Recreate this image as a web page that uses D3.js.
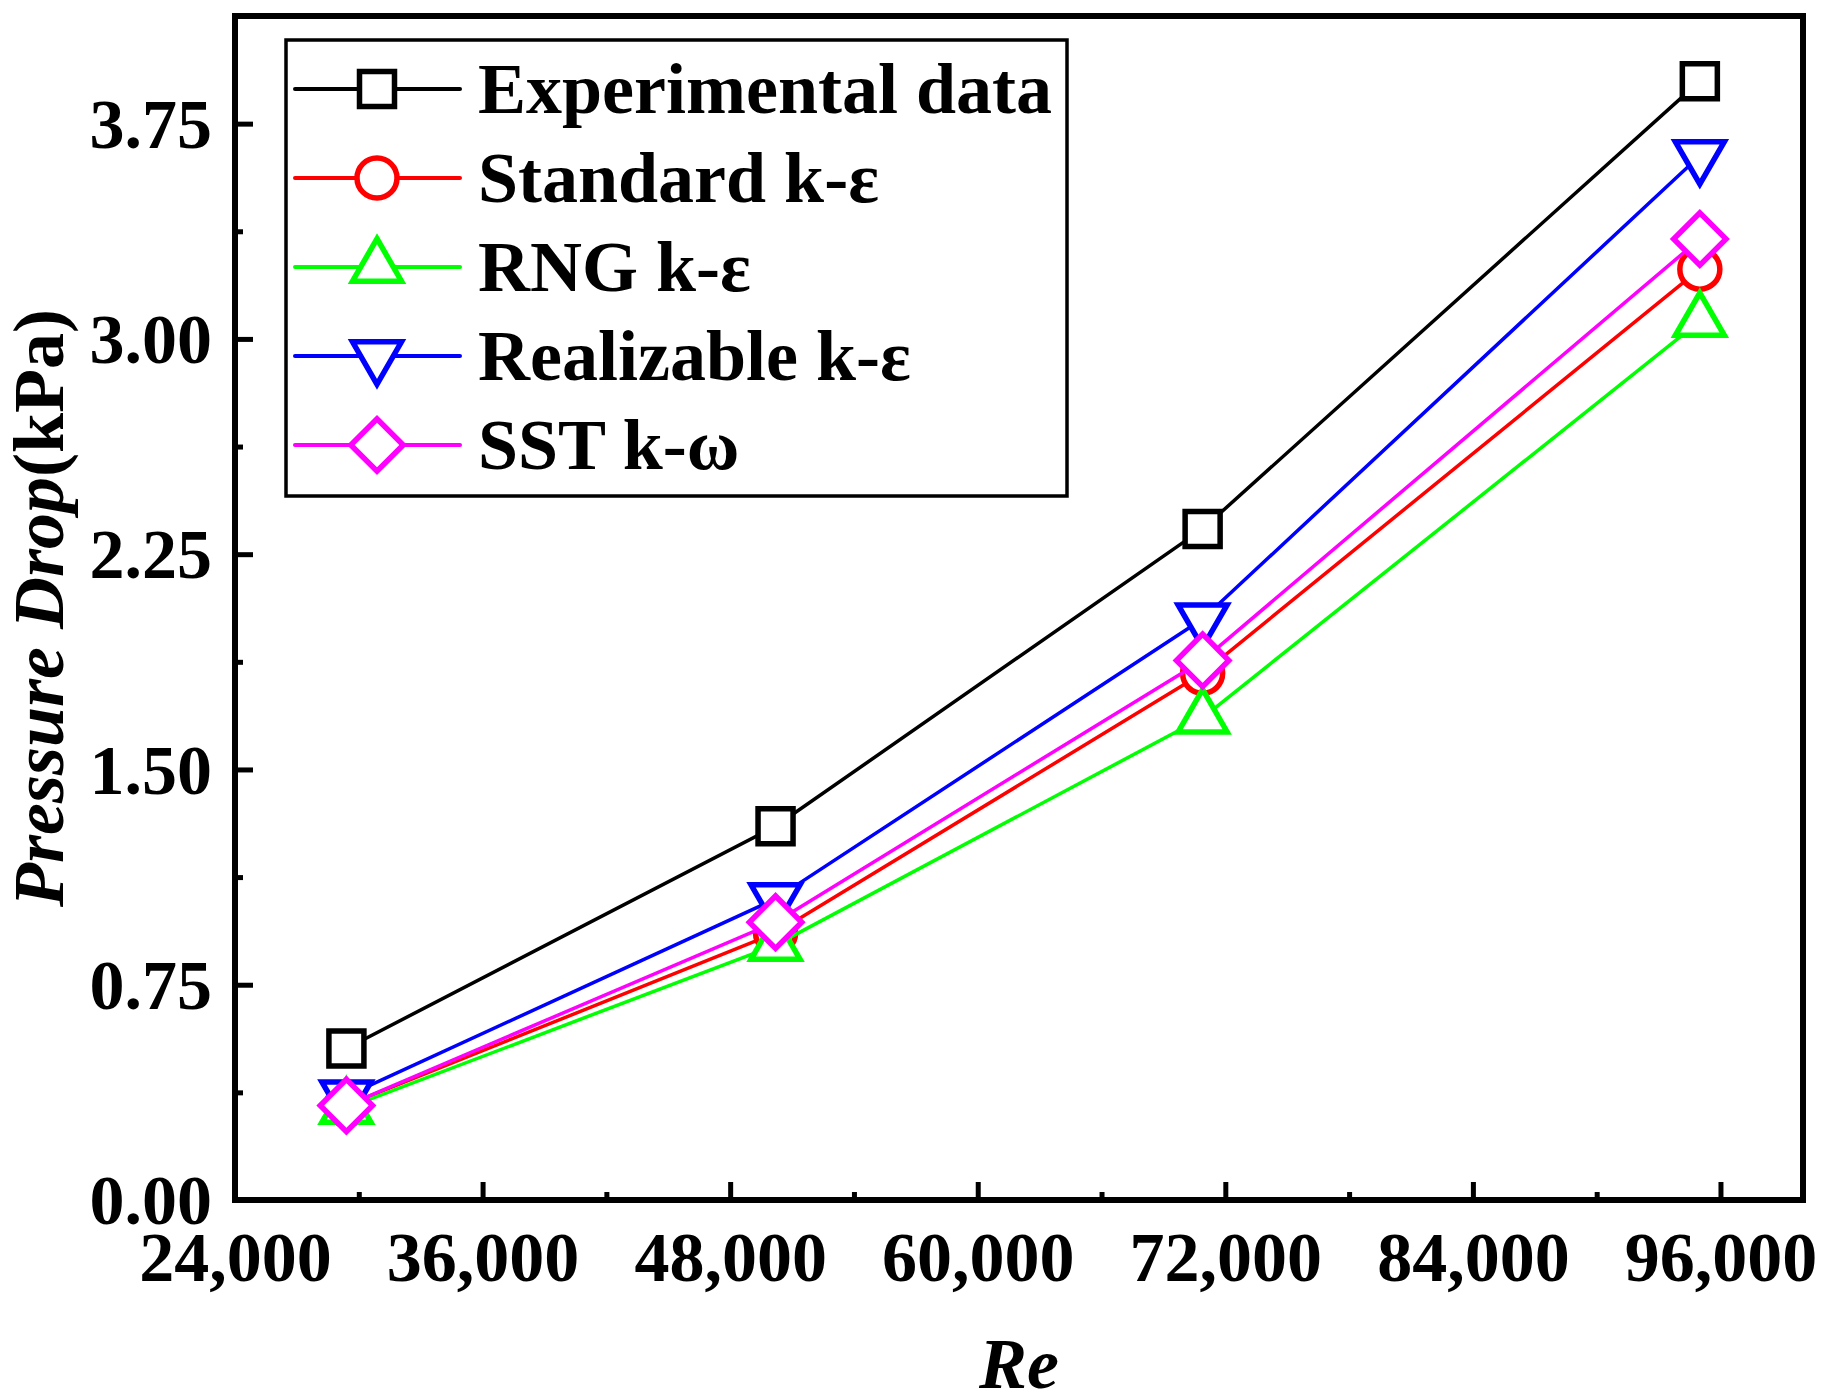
<!DOCTYPE html>
<html>
<head>
<meta charset="utf-8">
<script src="https://cdn.jsdelivr.net/npm/d3@7"></script>
<style>
  html, body { margin: 0; padding: 0; background: #fff; }
  text { font-family: "Liberation Serif", "Times New Roman", serif; font-weight: bold; }
</style>
</head>
<body>
<div class="line-chart"></div>
<script>
//======================DATA===================================================================

const reynolds = [29400, 50200, 70900, 95000];

const experimental = [0.528, 1.302, 2.338, 3.898];
const standardKE   = [0.330, 0.930, 1.835, 3.243];
const rngKE        = [0.320, 0.888, 1.680, 3.062];
const realizableKE = [0.362, 1.049, 2.024, 3.638];
const sstKW        = [0.329, 0.968, 1.880, 3.348];

const seriesNames = ["Experimental data", "Standard k-\u03b5", "RNG k-\u03b5", "Realizable k-\u03b5", "SST k-\u03c9"];

const xTicks = [24000, 36000, 48000, 60000, 72000, 84000, 96000];
const xMinorTicks = [30000, 42000, 54000, 66000, 78000, 90000];
const yTicks = [0, 0.75, 1.5, 2.25, 3, 3.75];
const yMinorTicks = [0.375, 1.125, 1.875, 2.625, 3.375];

//======================CHART==================================================================

const w = 1825;
const h = 1400;

const plotLeft = 235, plotRight = 1803, plotTop = 16, plotBottom = 1200;

const styles = [
  { color: "#000000", symbol: "square" },
  { color: "#ff0000", symbol: "circle" },
  { color: "#00ff00", symbol: "up" },
  { color: "#0000ff", symbol: "down" },
  { color: "#ff00ff", symbol: "diamond" }
];

const allSeries = [experimental, standardKE, rngKE, realizableKE, sstKW];

const xScale = d3.scaleLinear()
  .domain([24000, 100000])
  .range([plotLeft, plotRight]);

const yScale = d3.scaleLinear()
  .domain([0, 4.125])
  .range([plotBottom, plotTop]);

// marker shapes, centred on the point

const markerPath = kind => {
  if (kind === "square") return d3.symbol(d3.symbolSquare, 35 * 35)();
  if (kind === "circle") return d3.symbol(d3.symbolCircle, Math.PI * 20 * 20)();
  if (kind === "diamond") return d3.symbol(d3.symbolSquare, 37 * 37)();
  return d3.symbol(d3.symbolTriangle, Math.sqrt(3) / 4 * 49 * 49)();
};

const markerRotate = kind => {
  if (kind === "down") return " rotate(180)";
  if (kind === "diamond") return " rotate(45)";
  return "";
};

let svg = d3.select(".line-chart").append("svg")
  .attr("width", w)
  .attr("height", h)
  .attr("viewBox", "0 0 " + w + " " + h)
  .style("display", "block");

svg.append("rect")
  .attr("width", w)
  .attr("height", h)
  .attr("fill", "#fff");

// Axes (ticks point inward)

let yAxisGen = d3.axisLeft(yScale)
  .tickValues(yTicks)
  .tickSize(-18)
  .tickPadding(23)
  .tickFormat(d3.format(".2f"));

let yMinorGen = d3.axisLeft(yScale)
  .tickValues(yMinorTicks)
  .tickSize(-8)
  .tickFormat("");

let xAxisGen = d3.axisBottom(xScale)
  .tickValues(xTicks)
  .tickSize(-18)
  .tickPadding(31)
  .tickFormat(d3.format(","));

let xMinorGen = d3.axisBottom(xScale)
  .tickValues(xMinorTicks)
  .tickSize(-8)
  .tickFormat("");

const styleAxis = g => {
  g.select(".domain").remove();
  g.selectAll("line").attr("stroke", "#000").attr("stroke-width", 5);
  g.selectAll("text")
    .attr("fill", "#000")
    .attr("font-size", 70)
    .attr("font-family", "Liberation Serif")
    .attr("font-weight", "bold");
};

svg.append("g").attr("transform", "translate(" + plotLeft + ",0)").call(yAxisGen).call(styleAxis)
  .selectAll("text").attr("dy", "0.34em");
svg.append("g").attr("transform", "translate(" + plotLeft + ",0)").call(yMinorGen).call(styleAxis);
svg.append("g").attr("transform", "translate(0," + plotBottom + ")").call(xAxisGen).call(styleAxis);
svg.append("g").attr("transform", "translate(0," + plotBottom + ")").call(xMinorGen).call(styleAxis);

// Frame

svg.append("rect")
  .attr("x", plotLeft)
  .attr("y", plotTop)
  .attr("width", plotRight - plotLeft)
  .attr("height", plotBottom - plotTop)
  .attr("fill", "none")
  .attr("stroke", "#000")
  .attr("stroke-width", 6);

// Axis labels

svg.append("text")
  .attr("transform", "translate(63," + ((plotTop + plotBottom) / 2) + ") rotate(-90)")
  .attr("text-anchor", "middle")
  .attr("font-size", 72)
  .attr("fill", "#000")
  .call(t => {
    t.append("tspan").attr("font-style", "italic").text("Pressure Drop");
    t.append("tspan").text("(kPa)");
  });

svg.append("text")
  .attr("x", (plotLeft + plotRight) / 2)
  .attr("y", 1388)
  .attr("text-anchor", "middle")
  .attr("font-size", 72)
  .attr("font-style", "italic")
  .attr("fill", "#000")
  .text("Re");

// Lines and markers

let line = d3.line()
  .x((d, i) => xScale(reynolds[i]))
  .y(d => yScale(d));

allSeries.forEach((ds, k) => {
  let st = styles[k];
  let g = svg.append("g").attr("class", "series-" + k);

  g.append("path")
    .attr("d", line(ds))
    .attr("fill", "none")
    .attr("stroke", st.color)
    .attr("stroke-width", 3.5)
    .attr("stroke-linejoin", "round");

  g.selectAll("path.marker")
    .data(ds)
    .enter()
    .append("path")
    .attr("class", "marker")
    .attr("d", markerPath(st.symbol))
    .attr("transform", (d, i) => "translate(" + xScale(reynolds[i]) + "," + yScale(d) + ")" + markerRotate(st.symbol))
    .attr("fill", "#fff")
    .attr("stroke", st.color)
    .attr("stroke-width", 5.5)
    .attr("stroke-linejoin", "miter");
});

// Legend

const legX = 286, legY = 40, legW = 781, legH = 456;
const rowY0 = 89, rowStep = 89;

svg.append("rect")
  .attr("x", legX)
  .attr("y", legY)
  .attr("width", legW)
  .attr("height", legH)
  .attr("fill", "#fff")
  .attr("stroke", "#000")
  .attr("stroke-width", 3.5);

seriesNames.forEach((name, k) => {
  let st = styles[k];
  let y = rowY0 + k * rowStep;
  let row = svg.append("g").attr("class", "legend-row");

  row.append("line")
    .attr("x1", 295)
    .attr("x2", 460)
    .attr("y1", y)
    .attr("y2", y)
    .attr("stroke", st.color)
    .attr("stroke-width", 4)
    .attr("stroke-linecap", "round");

  row.append("path")
    .attr("d", markerPath(st.symbol))
    .attr("transform", "translate(377," + y + ")" + markerRotate(st.symbol))
    .attr("fill", "#fff")
    .attr("stroke", st.color)
    .attr("stroke-width", 5.5);

  row.append("text")
    .attr("x", 478)
    .attr("y", y + 24)
    .attr("font-size", 72)
    .attr("fill", "#000")
    .text(name);
});
</script>
</body>
</html>
